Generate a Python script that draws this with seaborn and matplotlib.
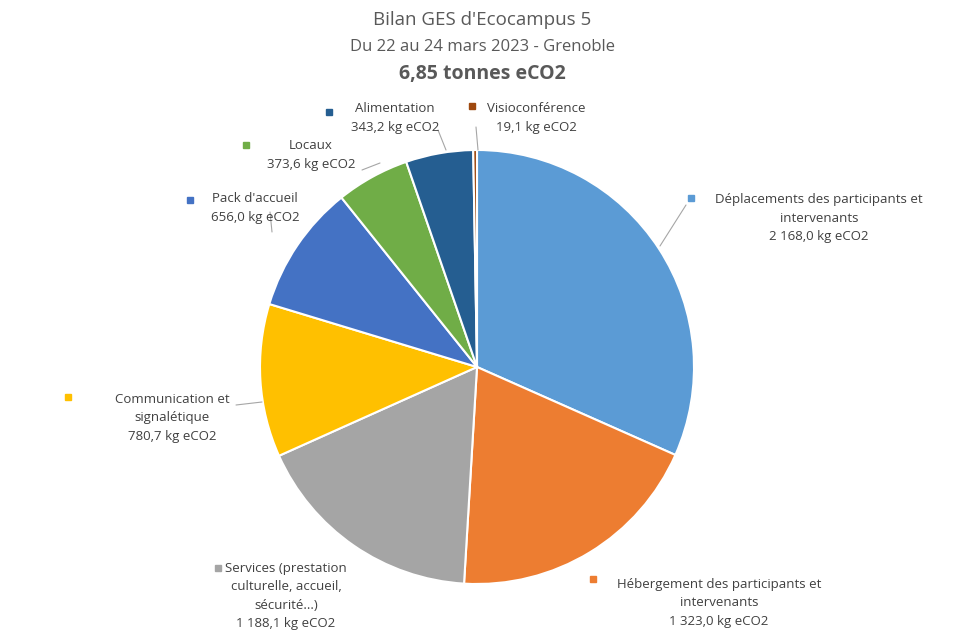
import matplotlib
matplotlib.use("Agg")
import matplotlib.pyplot as plt
import seaborn as sns

sns.set_theme(style="white")
plt.rcParams['font.family'] = ['Open Sans', 'DejaVu Sans']

categories = ["Déplacements des participants et\nintervenants", "Hébergement des participants et\nintervenants",
              "Services (prestation\nculturelle, accueil,\nsécurité...)", "Communication et\nsignalétique",
              "Pack d'accueil", "Locaux", "Alimentation", "Visioconférence"]
values = [2168.0, 1323.0, 1188.1, 780.7, 656.0, 373.6, 343.2, 19.1]
value_labels = ["2 168,0 kg eCO2", "1 323,0 kg eCO2", "1 188,1 kg eCO2", "780,7 kg eCO2",
                "656,0 kg eCO2", "373,6 kg eCO2", "343,2 kg eCO2", "19,1 kg eCO2"]
colors = ["#5B9BD5", "#ED7D31", "#A5A5A5", "#FFC000", "#4472C4", "#70AD47", "#255E91", "#9E480E"]

W, H = 964, 637
fig = plt.figure(figsize=(W/100, H/100), dpi=100)
def fx(x): return x / W
def fy(y): return 1 - y / H

ax = fig.add_axes([fx(260), fy(584), 434/W, 434/H])
ax.pie(values, colors=colors, startangle=90, counterclock=False, radius=1,
       wedgeprops=dict(edgecolor="white", linewidth=1.5))
ax.set_xlim(-1, 1); ax.set_ylim(-1, 1); ax.set_aspect("equal"); ax.axis("off")

gray = "#595959"
fig.text(fx(482), fy(20), "Bilan GES d'Ecocampus 5", ha="center", va="center", fontsize=13.5, color=gray)
fig.text(fx(482), fy(47), "Du 22 au 24 mars 2023 - Grenoble", ha="center", va="center", fontsize=12, color=gray)
fig.text(fx(482), fy(74), "6,85 tonnes eCO2", ha="center", va="center", fontsize=14, color=gray, fontweight="bold")

# label text centers and marker positions (pixels)
label_pos = [(819, 218), (719, 603), (286, 596), (172, 418), (255, 208), (311, 155), (395, 118), (536, 118)]
marker_pos = [(691, 198), (593, 579), (218, 568), (68, 397), (190, 200), (246, 145), (329, 112), (472, 106)]
for cat, vl, c, (tx, ty), (mx, my) in zip(categories, value_labels, colors, label_pos, marker_pos):
    fig.text(fx(tx), fy(ty), cat + "\n" + vl, ha="center", va="center", fontsize=9.5,
             color="#404040", linespacing=1.55)
    fig.patches.append(plt.Rectangle((fx(mx-3), fy(my+3)), 6/W, 6/H, transform=fig.transFigure,
                                     color=c, figure=fig))

leaders = [((660, 246), (686, 205)), ((236, 405), (262, 402)), ((270, 212), (272, 232)),
           ((362, 170), (380, 163)), ((438, 130), (446, 150)), ((476, 127), (478, 150))]
for (x0, y0), (x1, y1) in leaders:
    fig.add_artist(plt.Line2D([fx(x0), fx(x1)], [fy(y0), fy(y1)], transform=fig.transFigure,
                              color="#A6A6A6", linewidth=0.8))

fig.savefig("out.png", dpi=100, facecolor="white")
